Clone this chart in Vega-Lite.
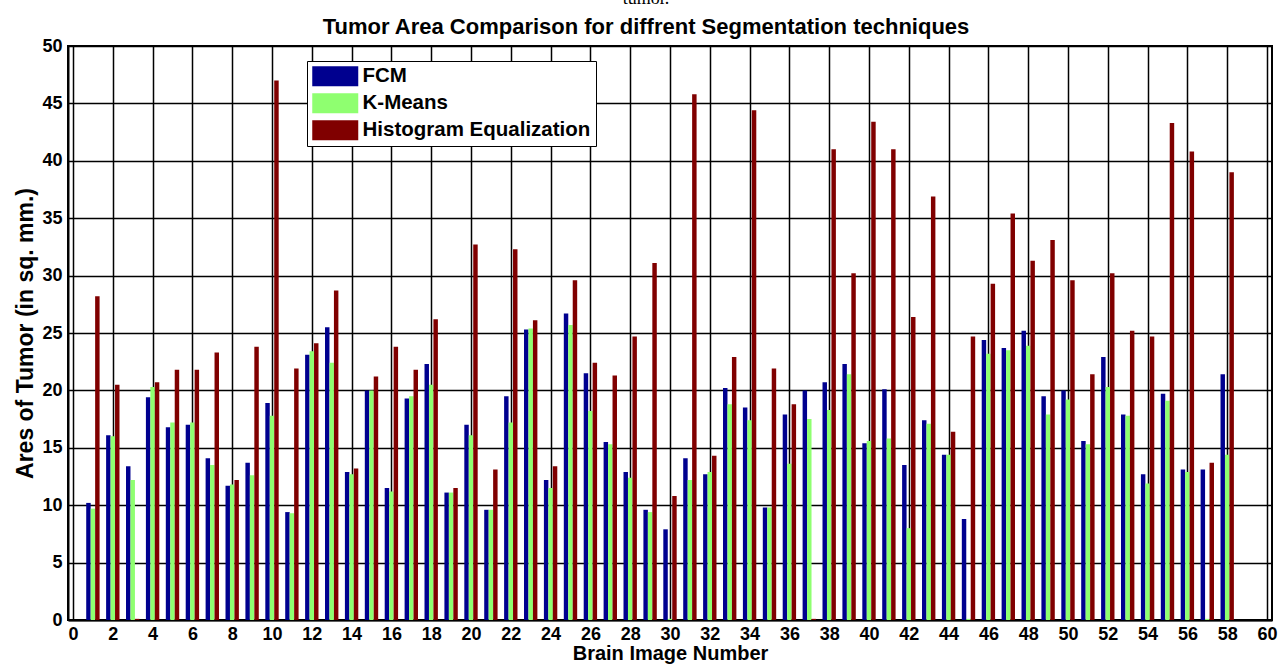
{
  "$schema": "https://vega.github.io/schema/vega-lite/v6.json",
  "width": 1204,
  "height": 574,
  "autosize": {"type": "none"},
  "padding": {"left": 68, "top": 46, "right": 12, "bottom": 46},
  "background": "white",
  "config": {
    "view": {"stroke": "black", "strokeWidth": 2},
    "font": "Liberation Sans"
  },
  "title": {
    "text": "tumor.",
    "subtitle": "Tumor Area Comparison for diffrent Segmentation techniques",
    "font": "Liberation Serif",
    "fontSize": 18,
    "fontWeight": "normal",
    "color": "black",
    "subtitleFont": "Liberation Sans",
    "subtitleFontSize": 22,
    "subtitleFontWeight": "bold",
    "subtitleColor": "black",
    "subtitlePadding": 9,
    "anchor": "middle",
    "frame": "group",
    "offset": -1,
    "dx": -24
  },
  "data": {
    "values": [
      {"image":1,"method":"FCM","area":10.2},{"image":1,"method":"K-Means","area":9.7},{"image":1,"method":"Histogram Equalization","area":28.2},
      {"image":2,"method":"FCM","area":16.1},{"image":2,"method":"K-Means","area":16.0},{"image":2,"method":"Histogram Equalization","area":20.5},
      {"image":3,"method":"FCM","area":13.4},{"image":3,"method":"K-Means","area":12.2},{"image":3,"method":"Histogram Equalization","area":0.1},
      {"image":4,"method":"FCM","area":19.4},{"image":4,"method":"K-Means","area":20.3},{"image":4,"method":"Histogram Equalization","area":20.7},
      {"image":5,"method":"FCM","area":16.8},{"image":5,"method":"K-Means","area":17.2},{"image":5,"method":"Histogram Equalization","area":21.8},
      {"image":6,"method":"FCM","area":17.0},{"image":6,"method":"K-Means","area":17.2},{"image":6,"method":"Histogram Equalization","area":21.8},
      {"image":7,"method":"FCM","area":14.1},{"image":7,"method":"K-Means","area":13.5},{"image":7,"method":"Histogram Equalization","area":23.3},
      {"image":8,"method":"FCM","area":11.7},{"image":8,"method":"K-Means","area":11.8},{"image":8,"method":"Histogram Equalization","area":12.2},
      {"image":9,"method":"FCM","area":13.7},{"image":9,"method":"K-Means","area":12.6},{"image":9,"method":"Histogram Equalization","area":23.8},
      {"image":10,"method":"FCM","area":18.9},{"image":10,"method":"K-Means","area":17.8},{"image":10,"method":"Histogram Equalization","area":47.0},
      {"image":11,"method":"FCM","area":9.4},{"image":11,"method":"K-Means","area":9.3},{"image":11,"method":"Histogram Equalization","area":21.9},
      {"image":12,"method":"FCM","area":23.1},{"image":12,"method":"K-Means","area":23.4},{"image":12,"method":"Histogram Equalization","area":24.1},
      {"image":13,"method":"FCM","area":25.5},{"image":13,"method":"K-Means","area":22.4},{"image":13,"method":"Histogram Equalization","area":28.7},
      {"image":14,"method":"FCM","area":12.9},{"image":14,"method":"K-Means","area":12.7},{"image":14,"method":"Histogram Equalization","area":13.2},
      {"image":15,"method":"FCM","area":20.0},{"image":15,"method":"K-Means","area":20.0},{"image":15,"method":"Histogram Equalization","area":21.2},
      {"image":16,"method":"FCM","area":11.5},{"image":16,"method":"K-Means","area":11.2},{"image":16,"method":"Histogram Equalization","area":23.8},
      {"image":17,"method":"FCM","area":19.3},{"image":17,"method":"K-Means","area":19.5},{"image":17,"method":"Histogram Equalization","area":21.8},
      {"image":18,"method":"FCM","area":22.3},{"image":18,"method":"K-Means","area":20.5},{"image":18,"method":"Histogram Equalization","area":26.2},
      {"image":19,"method":"FCM","area":11.1},{"image":19,"method":"K-Means","area":11.1},{"image":19,"method":"Histogram Equalization","area":11.5},
      {"image":20,"method":"FCM","area":17.0},{"image":20,"method":"K-Means","area":16.1},{"image":20,"method":"Histogram Equalization","area":32.7},
      {"image":21,"method":"FCM","area":9.6},{"image":21,"method":"K-Means","area":9.6},{"image":21,"method":"Histogram Equalization","area":13.1},
      {"image":22,"method":"FCM","area":19.5},{"image":22,"method":"K-Means","area":17.2},{"image":22,"method":"Histogram Equalization","area":32.3},
      {"image":23,"method":"FCM","area":25.3},{"image":23,"method":"K-Means","area":25.4},{"image":23,"method":"Histogram Equalization","area":26.1},
      {"image":24,"method":"FCM","area":12.2},{"image":24,"method":"K-Means","area":11.5},{"image":24,"method":"Histogram Equalization","area":13.4},
      {"image":25,"method":"FCM","area":26.7},{"image":25,"method":"K-Means","area":25.7},{"image":25,"method":"Histogram Equalization","area":29.6},
      {"image":26,"method":"FCM","area":21.5},{"image":26,"method":"K-Means","area":18.2},{"image":26,"method":"Histogram Equalization","area":22.4},
      {"image":27,"method":"FCM","area":15.5},{"image":27,"method":"K-Means","area":15.3},{"image":27,"method":"Histogram Equalization","area":21.3},
      {"image":28,"method":"FCM","area":12.9},{"image":28,"method":"K-Means","area":12.4},{"image":28,"method":"Histogram Equalization","area":24.7},
      {"image":29,"method":"FCM","area":9.6},{"image":29,"method":"K-Means","area":9.4},{"image":29,"method":"Histogram Equalization","area":31.1},
      {"image":30,"method":"FCM","area":7.9},{"image":30,"method":"K-Means","area":0.1},{"image":30,"method":"Histogram Equalization","area":10.8},
      {"image":31,"method":"FCM","area":14.1},{"image":31,"method":"K-Means","area":12.2},{"image":31,"method":"Histogram Equalization","area":45.8},
      {"image":32,"method":"FCM","area":12.7},{"image":32,"method":"K-Means","area":12.9},{"image":32,"method":"Histogram Equalization","area":14.3},
      {"image":33,"method":"FCM","area":20.2},{"image":33,"method":"K-Means","area":18.8},{"image":33,"method":"Histogram Equalization","area":22.9},
      {"image":34,"method":"FCM","area":18.5},{"image":34,"method":"K-Means","area":17.4},{"image":34,"method":"Histogram Equalization","area":44.4},
      {"image":35,"method":"FCM","area":9.8},{"image":35,"method":"K-Means","area":9.8},{"image":35,"method":"Histogram Equalization","area":21.9},
      {"image":36,"method":"FCM","area":17.9},{"image":36,"method":"K-Means","area":13.6},{"image":36,"method":"Histogram Equalization","area":18.8},
      {"image":37,"method":"FCM","area":20.0},{"image":37,"method":"K-Means","area":17.5},{"image":37,"method":"Histogram Equalization","area":0.1},
      {"image":38,"method":"FCM","area":20.7},{"image":38,"method":"K-Means","area":18.3},{"image":38,"method":"Histogram Equalization","area":41.0},
      {"image":39,"method":"FCM","area":22.3},{"image":39,"method":"K-Means","area":21.4},{"image":39,"method":"Histogram Equalization","area":30.2},
      {"image":40,"method":"FCM","area":15.4},{"image":40,"method":"K-Means","area":15.6},{"image":40,"method":"Histogram Equalization","area":43.4},
      {"image":41,"method":"FCM","area":20.1},{"image":41,"method":"K-Means","area":15.8},{"image":41,"method":"Histogram Equalization","area":41.0},
      {"image":42,"method":"FCM","area":13.5},{"image":42,"method":"K-Means","area":8.0},{"image":42,"method":"Histogram Equalization","area":26.4},
      {"image":43,"method":"FCM","area":17.4},{"image":43,"method":"K-Means","area":17.1},{"image":43,"method":"Histogram Equalization","area":36.9},
      {"image":44,"method":"FCM","area":14.4},{"image":44,"method":"K-Means","area":14.4},{"image":44,"method":"Histogram Equalization","area":16.4},
      {"image":45,"method":"FCM","area":8.8},{"image":45,"method":"K-Means","area":0.1},{"image":45,"method":"Histogram Equalization","area":24.7},
      {"image":46,"method":"FCM","area":24.4},{"image":46,"method":"K-Means","area":23.2},{"image":46,"method":"Histogram Equalization","area":29.3},
      {"image":47,"method":"FCM","area":23.7},{"image":47,"method":"K-Means","area":23.5},{"image":47,"method":"Histogram Equalization","area":35.4},
      {"image":48,"method":"FCM","area":25.2},{"image":48,"method":"K-Means","area":23.9},{"image":48,"method":"Histogram Equalization","area":31.3},
      {"image":49,"method":"FCM","area":19.5},{"image":49,"method":"K-Means","area":17.9},{"image":49,"method":"Histogram Equalization","area":33.1},
      {"image":50,"method":"FCM","area":20.0},{"image":50,"method":"K-Means","area":19.2},{"image":50,"method":"Histogram Equalization","area":29.6},
      {"image":51,"method":"FCM","area":15.6},{"image":51,"method":"K-Means","area":15.3},{"image":51,"method":"Histogram Equalization","area":21.4},
      {"image":52,"method":"FCM","area":22.9},{"image":52,"method":"K-Means","area":20.3},{"image":52,"method":"Histogram Equalization","area":30.2},
      {"image":53,"method":"FCM","area":17.9},{"image":53,"method":"K-Means","area":17.8},{"image":53,"method":"Histogram Equalization","area":25.2},
      {"image":54,"method":"FCM","area":12.7},{"image":54,"method":"K-Means","area":11.9},{"image":54,"method":"Histogram Equalization","area":24.7},
      {"image":55,"method":"FCM","area":19.7},{"image":55,"method":"K-Means","area":19.1},{"image":55,"method":"Histogram Equalization","area":43.3},
      {"image":56,"method":"FCM","area":13.1},{"image":56,"method":"K-Means","area":12.9},{"image":56,"method":"Histogram Equalization","area":40.8},
      {"image":57,"method":"FCM","area":13.1},{"image":57,"method":"K-Means","area":0.1},{"image":57,"method":"Histogram Equalization","area":13.7},
      {"image":58,"method":"FCM","area":21.4},{"image":58,"method":"K-Means","area":14.4},{"image":58,"method":"Histogram Equalization","area":39.0}
    ]
  },
  "encoding": {
    "x": {
      "field": "image",
      "type": "quantitative",
      "scale": {"domain": [0, 60], "nice": false, "zero": false},
      "axis": {
        "values": [0,2,4,6,8,10,12,14,16,18,20,22,24,26,28,30,32,34,36,38,40,42,44,46,48,50,52,54,56,58,60],
        "title": "Brain Image Number",
        "grid": true,
        "gridColor": "black",
        "gridOpacity": 1,
        "gridWidth": 1.5,
        "domainColor": "black",
        "domainWidth": 2,
        "ticks": false,
        "labelFont": "Liberation Sans",
        "labelFontSize": 18,
        "labelFontWeight": "bold",
        "labelColor": "black",
        "labelPadding": 5,
        "labelFlush": false,
        "labelOverlap": false,
        "titleFont": "Liberation Sans",
        "titleFontSize": 20,
        "titleFontWeight": "bold",
        "titleColor": "black",
        "titlePadding": 0
      }
    },
    "y": {
      "field": "area",
      "type": "quantitative",
      "scale": {"domain": [0, 50], "nice": false},
      "axis": {
        "values": [0,5,10,15,20,25,30,35,40,45,50],
        "title": "Ares of Tumor (in sq. mm.)",
        "grid": true,
        "gridColor": "black",
        "gridOpacity": 1,
        "gridWidth": 1.5,
        "domainColor": "black",
        "domainWidth": 2,
        "ticks": false,
        "labelFont": "Liberation Sans",
        "labelFontSize": 18,
        "labelFontWeight": "bold",
        "labelColor": "black",
        "labelPadding": 6,
        "labelFlush": false,
        "labelOverlap": false,
        "titleFont": "Liberation Sans",
        "titleFontSize": 23,
        "titleFontWeight": "bold",
        "titleColor": "black",
        "titlePadding": 4
      }
    },
    "color": {
      "field": "method",
      "type": "nominal",
      "scale": {
        "domain": ["FCM", "K-Means", "Histogram Equalization"],
        "range": ["#00008F", "#8FFF70", "#800000"]
      },
      "legend": {
        "title": null,
        "orient": "none",
        "legendX": 239,
        "legendY": 15,
        "fillColor": "white",
        "strokeColor": "black",
        "padding": 5,
        "symbolType": "M-1,-1H3.6V1H-1Z",
        "symbolSize": 400,
        "symbolStrokeWidth": 0,
        "symbolOpacity": 1,
        "labelFont": "Liberation Sans",
        "labelFontSize": 20.5,
        "labelFontWeight": "bold",
        "labelColor": "black",
        "labelOffset": 30,
        "labelLimit": 400,
        "rowPadding": 6
      }
    }
  },
  "layer": [
    {
      "transform": [{"filter": "datum.method === 'FCM'"}],
      "mark": {"type": "bar", "width": 4.46, "xOffset": -4.46}
    },
    {
      "transform": [{"filter": "datum.method === 'K-Means'"}],
      "mark": {"type": "bar", "width": 4.46, "xOffset": 0}
    },
    {
      "transform": [{"filter": "datum.method === 'Histogram Equalization'"}],
      "mark": {"type": "bar", "width": 4.46, "xOffset": 4.46}
    }
  ]
}
